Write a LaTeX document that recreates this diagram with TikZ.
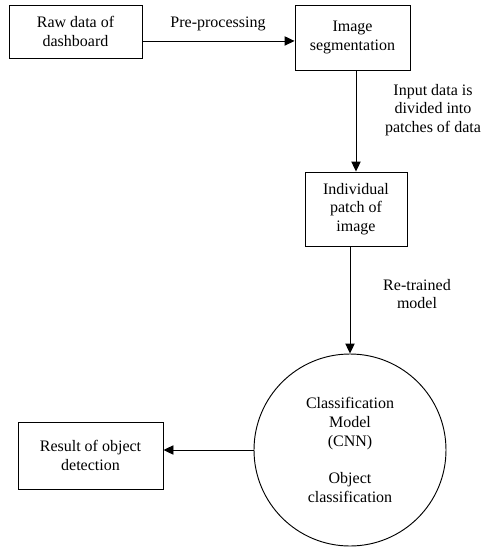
\documentclass[tikz,border=0pt]{standalone}
\usepackage{fontspec}
\setmainfont{Liberation Serif}
\usetikzlibrary{arrows.meta}
\begin{document}
\begin{tikzpicture}[x=0.75pt, y=-0.75pt, line width=0.7pt,
    every node/.style={align=center, font=\fontsize{12}{14}\selectfont},
    stage/.style={draw, inner sep=2pt},
    flow/.style={-{Triangle[length=7.5pt,width=7pt]}}]
    \useasboundingbox (0,0) rectangle (485,550);

    \node[stage, minimum width=99.75pt, minimum height=39.75pt] (raw) at (75.5,31.5) {Raw data of\\dashboard};
    \node[stage, minimum width=86.25pt, minimum height=48.75pt] (seg) at (352.5,37.5) {Image\\segmentation};
    \node[stage, minimum width=76.5pt, minimum height=55.5pt] (patch) at (356,209) {Individual\\patch of\\image};
    \node[draw, circle, minimum size=144pt] (cnn) at (350,450) {Classification\\Model\\(CNN)\\[14pt]Object\\classification};
    \node[stage, minimum width=108.75pt, minimum height=50.25pt] (result) at (90.5,455.5) {Result of object\\detection};

    \draw[flow] ([yshift=-2.6pt]seg.west -| raw.east) -- ([yshift=-2.6pt]seg.west);
    \node (prep) at (218,24) {Pre-processing};
    \draw[flow] (seg.south -| patch.north) -- (patch.north);
    \node (split) at (433,110) {Input data is\\divided into\\patches of data};
    \draw[flow] (patch.south -| cnn.north) -- (cnn.north);
    \node (retrain) at (417,294) {Re-trained\\model};
    \draw[flow] (cnn.west) -- (cnn.west -| result.east);
\end{tikzpicture}
\end{document}
